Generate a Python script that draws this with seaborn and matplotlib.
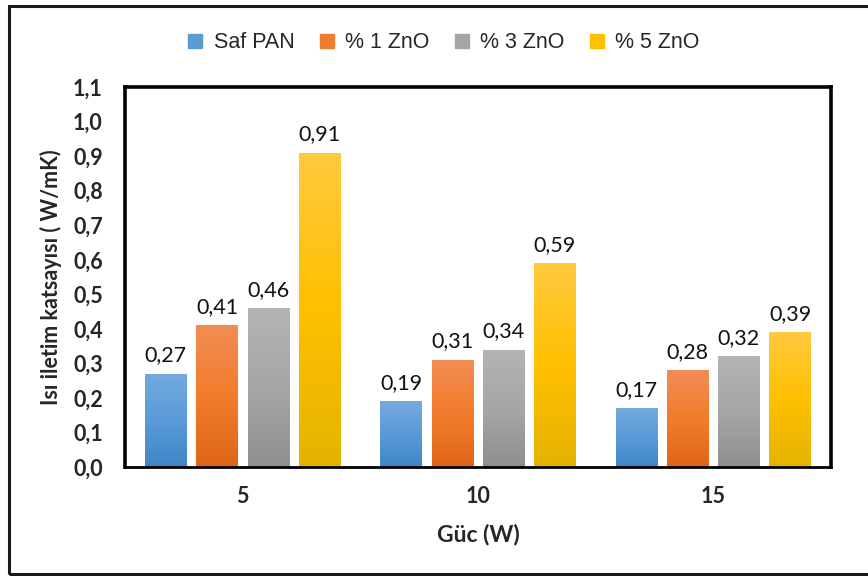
import numpy as np
import pandas as pd
import matplotlib
matplotlib.use("Agg")
import matplotlib.pyplot as plt
from matplotlib.colors import to_rgb
from matplotlib.lines import Line2D
from matplotlib.patches import Rectangle
import seaborn as sns

# Thermal conductivity by heating power for each sample
power = ["5", "10", "15"]
samples = ["Saf PAN", "% 1 ZnO", "% 3 ZnO", "% 5 ZnO"]
saf_pan = [0.27, 0.19, 0.17]
zno_1 = [0.41, 0.31, 0.28]
zno_3 = [0.46, 0.34, 0.32]
zno_5 = [0.91, 0.59, 0.39]
y_ticks = [0.0, 0.1, 0.2, 0.3, 0.4, 0.5, 0.6, 0.7, 0.8, 0.9, 1.0, 1.1]

base_colors = ["#5b9bd5", "#ed7d31", "#a5a5a5", "#ffc000"]
# (top, middle, bottom) shades for the vertical fill of each series
gradients = [
    ("#74aadf", "#5a9bd8", "#3f85c7"),
    ("#f28d55", "#f27c2c", "#df6619"),
    ("#b4b4b4", "#a6a6a6", "#8f8f8f"),
    ("#ffca3e", "#ffc000", "#e4b300"),
]

df = pd.DataFrame({
    "Güç": power * 4,
    "Örnek": np.repeat(samples, 3),
    "Değer": saf_pan + zno_1 + zno_3 + zno_5,
})

sns.set_theme(style="white")
plt.rcParams["font.family"] = ["Lato", "DejaVu Sans"]

fig = plt.figure(figsize=(8.68, 5.76), dpi=100)
ax = fig.add_axes([125 / 868, 1 - 467 / 576, (831 - 125) / 868, (467 - 87) / 576])

sns.barplot(data=df, x="Güç", y="Değer", hue="Örnek", order=power,
            hue_order=samples, palette=base_colors, width=0.87, gap=0.19,
            edgecolor="white", linewidth=0.8, legend=False, ax=ax,
            errorbar=None)


def shade(stops, n=200):
    c = np.array([to_rgb(s) for s in stops])
    half = np.linspace(0, 1, n // 2)
    top = c[0][None, :] * (1 - half[:, None]) + c[1][None, :] * half[:, None]
    bot = c[1][None, :] * (1 - half[:, None]) + c[2][None, :] * half[:, None]
    return np.concatenate([top, bot])[:, None, :]


for container, stops in zip(ax.containers, gradients):
    img = shade(stops)
    for bar in container:
        x0, w, h = bar.get_x(), bar.get_width(), bar.get_height()
        im = ax.imshow(img, extent=[x0, x0 + w, 0, h], aspect="auto",
                       origin="upper", zorder=bar.get_zorder() + 0.1,
                       interpolation="bilinear")
        im.set_clip_path(bar)
    labels = [f"{v:.2f}".replace(".", ",") for v in container.datavalues]
    ax.bar_label(container, labels=labels, padding=6, fontsize=15.5,
                 color="#111111", zorder=5)

ax.set_ylim(0, 1.1)
ax.set_xlim(-0.5, 2.5)
ax.set_yticks(y_ticks)
ax.set_yticklabels([f"{v:.1f}".replace(".", ",") for v in y_ticks],
                   fontsize=15.5, fontweight="bold")
ax.set_xticks(range(len(power)))
ax.set_xticklabels(power, fontsize=15.5, fontweight="bold")
ax.tick_params(axis="y", length=0, pad=16)
ax.tick_params(axis="x", length=0, pad=14)
ax.set_xlabel("Güc (W)", fontsize=16.5, fontweight="bold", labelpad=12)
ax.set_ylabel("Isı iletim katsayısı ( W/mK)", fontsize=15.5,
              fontweight="bold", labelpad=8)
for sp in ax.spines.values():
    sp.set_visible(True)
    sp.set_color("black")
    sp.set_linewidth(2.6)
ax.spines["bottom"].set_linewidth(2.0)

handles = [Line2D([], [], marker="s", linestyle="", markersize=9.5,
                  markerfacecolor=c, markeredgecolor=c) for c in base_colors]
fig.legend(handles, samples, loc="center", bbox_to_anchor=(441 / 868, 1 - 43 / 576),
           ncol=4, frameon=False, handletextpad=0.25, columnspacing=0.9,
           handlelength=1.2,
           prop={"family": "Liberation Sans", "size": 15.5})

# outer frame around the whole chart
fig.add_artist(Rectangle((9 / 868, 1 - 574 / 576), 1.2, (574 - 6) / 576,
                         transform=fig.transFigure, fill=False,
                         edgecolor="#1a1a1a", linewidth=2.2, clip_on=False))

fig.savefig("out.png", dpi=100)
